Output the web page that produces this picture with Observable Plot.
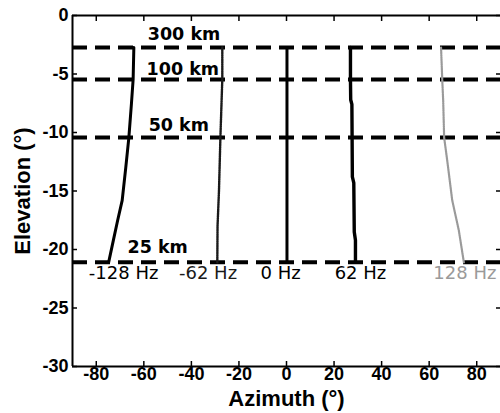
<!DOCTYPE html>
<html>
<head>
<meta charset="utf-8">
<script src="https://cdn.jsdelivr.net/npm/d3@7"></script>
<script src="https://cdn.jsdelivr.net/npm/@observablehq/plot@0.6"></script>
<style>
  html, body { margin: 0; padding: 0; background: #fff; overflow: hidden; }
  #chart svg { display: block; }
</style>
</head>
<body>
<div id="chart"></div>
<script>
// Axis ticks
const xTicks = [-80, -60, -40, -20, 0, 20, 40, 60, 80];
const yTicks = [0, -5, -10, -15, -20, -25, -30];

// Range rings (horizontal dashed lines) and their labels
const rangeNames = ["300 km", "100 km", "50 km", "25 km"];
const rangeElev = [-2.74, -5.47, -10.43, -21.1];
const rangeLabelAz = [-43.1, -43.6, -45.3, -54.2];
const rangeLabelElev = [-1.6, -4.6, -9.4, -19.8];

// Doppler traces: elevation samples and azimuth at each sample
const freqNames = ["-128 Hz", "-62 Hz", "0 Hz", "62 Hz", "128 Hz"];
const freqLabelAz = [-68.5, -33.0, -2.5, 31.1, 75.0];
const freqLabelElev = -22.05;
const freqColor = ["#000", "#1a1a1a", "#000", "#000", "#9a9a9a"];
const freqWidth = [3, 2.4, 3, 3.4, 2.2];

const elevM128 = [-2.74, -5.47, -7.5, -10.43, -13.0, -15.8, -17.5, -19.2, -21.1];
const azM128   = [-64.2, -64.5, -65.2, -66.3, -67.6, -69.1, -71.0, -72.8, -74.8];

const elevM62 = [-2.74, -5.47, -10.43, -15.0, -18.0, -21.1];
const azM62   = [-27.0, -27.0, -27.8, -28.4, -29.0, -29.1];

const elev0 = [-2.74, -21.1];
const az0   = [0.2, 0.2];

const elevP62 = [-2.74, -5.47, -7.2, -7.6, -13.8, -14.3, -18.5, -19.2, -21.1];
const azP62   = [26.9, 26.9, 27.0, 27.5, 27.7, 28.3, 28.5, 29.0, 29.0];

const elevP128 = [-2.74, -5.47, -7.3, -10.43, -12.4, -15.8, -18.4, -21.1];
const azP128   = [65.0, 65.5, 65.9, 66.3, 67.6, 69.7, 72.5, 74.6];

const traceElev = [elevM128, elevM62, elev0, elevP62, elevP128];
const traceAz = [azM128, azM62, az0, azP62, azP128];

const traces = freqNames.flatMap((f, i) =>
  traceElev[i].map((e, j) => ({freq: f, i, az: traceAz[i][j], elev: e}))
);
const rings = rangeNames.map((name, i) => ({name, elev: rangeElev[i], labelAz: rangeLabelAz[i], labelElev: rangeLabelElev[i]}));
const freqLabels = freqNames.map((name, i) => ({name, az: freqLabelAz[i], elev: freqLabelElev, color: freqColor[i]}));

const tickFont = "'Liberation Sans', Arial, Helvetica, sans-serif";
const plain = d => String(d); // ASCII hyphen for negative ticks

const chart = Plot.plot({
  width: 500,
  height: 413,
  marginLeft: 72,
  marginRight: 0,
  marginTop: 15,
  marginBottom: 47,
  x: {domain: [-90, 90]},
  y: {domain: [-30, 0]},
  style: {
    fontFamily: tickFont,
    fontSize: "18px",
    fontWeight: "bold",
    color: "#000",
    background: "#fff",
    overflow: "visible"
  },
  marks: [
    // range rings
    Plot.ruleY(rings, {y: "elev", stroke: "#000", strokeWidth: 4, strokeDasharray: "15,8"}),
    // Doppler traces
    ...freqNames.map((f, i) =>
      Plot.line(traces.filter(d => d.i === i), {
        x: "az", y: "elev",
        stroke: freqColor[i], strokeWidth: freqWidth[i],
        strokeDasharray: i === 1 || i === 4 ? "1.6,0.7" : null
      })
    ),
    // range labels
    Plot.text(rings, {
      x: "labelAz", y: "labelElev", text: "name",
      fontFamily: "'DejaVu Sans', sans-serif", fontWeight: "bold", fontSize: 17.5,
      fill: "#000"
    }),
    // frequency labels
    Plot.text(freqLabels, {
      x: "az", y: "elev", text: "name",
      fontFamily: "'DejaVu Sans', sans-serif", fontWeight: "normal", fontSize: 18,
      fill: "color"
    }),
    // box
    Plot.ruleX([-90], {strokeWidth: 2}),
    Plot.ruleY([0], {strokeWidth: 2}),
    Plot.ruleY([-30], {strokeWidth: 2}),
    // inward tick marks
    Plot.axisX({ticks: xTicks, anchor: "bottom", tickSize: -5, tickFormat: () => "", label: null, strokeWidth: 1.5}),
    Plot.axisX({ticks: xTicks, anchor: "top", tickSize: -5, tickFormat: () => "", label: null, strokeWidth: 1.5}),
    Plot.axisY({ticks: yTicks, anchor: "left", tickSize: -5, tickFormat: () => "", label: null, strokeWidth: 1.5}),
    Plot.axisY({ticks: yTicks, anchor: "right", tickSize: -5, tickFormat: () => "", label: null, strokeWidth: 1.5}),
    // tick labels
    Plot.axisX({ticks: xTicks, anchor: "bottom", tickSize: 0, tickPadding: 1, tickFormat: plain, label: null, fontSize: 18}),
    Plot.axisY({ticks: yTicks, anchor: "left", tickSize: 0, tickPadding: 4, tickFormat: plain, label: null, fontSize: 18}),
    // axis titles
    Plot.text(["Azimuth (°)"], {frameAnchor: "bottom", dy: 32, lineAnchor: "middle", textAnchor: "middle", fontSize: 22, fontWeight: "bold"}),
    Plot.text(["Elevation (°)"], {frameAnchor: "left", dx: -50, rotate: -90, lineAnchor: "middle", textAnchor: "middle", fontSize: 22, fontWeight: "bold"})
  ]
});

document.getElementById("chart").appendChild(chart);
</script>
</body>
</html>
